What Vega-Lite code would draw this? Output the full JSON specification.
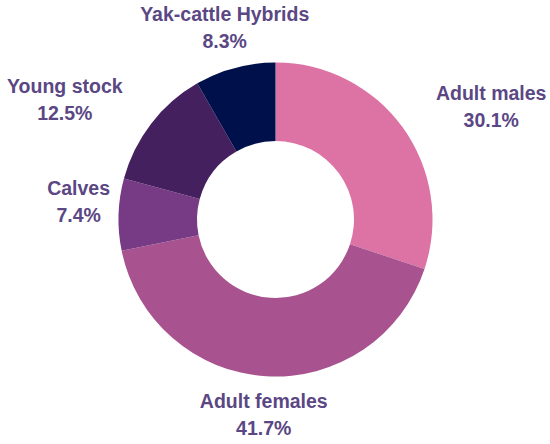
{
  "$schema": "https://vega.github.io/schema/vega-lite/v6.json",
  "width": 551,
  "height": 439,
  "autosize": {"type": "none"},
  "padding": 0,
  "background": "white",
  "view": {"stroke": null},
  "data": {
    "values": [
      {"cat": "Adult males", "pct": 30.1, "order": 1, "label": "Adult males\n30.1%"},
      {"cat": "Adult females", "pct": 41.7, "order": 2, "label": "Adult females\n41.7%"},
      {"cat": "Calves", "pct": 7.4, "order": 3, "label": "Calves\n7.4%"},
      {"cat": "Young stock", "pct": 12.5, "order": 4, "label": "Young stock\n12.5%"},
      {"cat": "Yak-cattle Hybrids", "pct": 8.3, "order": 5, "label": "Yak-cattle Hybrids\n8.3%"}
    ]
  },
  "encoding": {
    "theta": {"field": "pct", "type": "quantitative", "stack": true},
    "order": {"field": "order", "type": "quantitative", "sort": "ascending"}
  },
  "layer": [
    {
      "mark": {"type": "arc", "outerRadius": 157, "innerRadius": 78.5, "strokeWidth": 0},
      "encoding": {
        "color": {
          "field": "cat", "type": "nominal", "legend": null,
          "scale": {
            "domain": ["Adult males", "Adult females", "Calves", "Young stock", "Yak-cattle Hybrids"],
            "range": ["#dd72a4", "#a8538f", "#773a84", "#45205f", "#00104a"]
          }
        }
      }
    },
    {
      "mark": {"type": "text", "radius": 197, "dy": -14, "font": "Liberation Sans", "fontWeight": "bold", "fontSize": 19.5, "lineHeight": 27, "fill": "#5a4784", "align": "center", "baseline": "middle", "lineBreak": "\n"},
      "encoding": {
        "text": {"condition": {"test": "datum.cat === 'Adult females' || datum.cat === 'Yak-cattle Hybrids'", "field": "label"}, "value": ""}
      }
    },
    {
      "mark": {"type": "text", "radius": 197, "dy": -24, "font": "Liberation Sans", "fontWeight": "bold", "fontSize": 19.5, "lineHeight": 27, "fill": "#5a4784", "align": "center", "baseline": "middle", "lineBreak": "\n"},
      "encoding": {
        "text": {"condition": {"test": "datum.cat === 'Calves'", "field": "label"}, "value": ""}
      }
    },
    {
      "mark": {"type": "text", "radius": 266, "dy": 30, "font": "Liberation Sans", "fontWeight": "bold", "fontSize": 19.5, "lineHeight": 27, "fill": "#5a4784", "align": "center", "baseline": "middle", "lineBreak": "\n"},
      "encoding": {
        "text": {"condition": {"test": "datum.cat === 'Adult males' || datum.cat === 'Young stock'", "field": "label"}, "value": ""}
      }
    }
  ]
}
